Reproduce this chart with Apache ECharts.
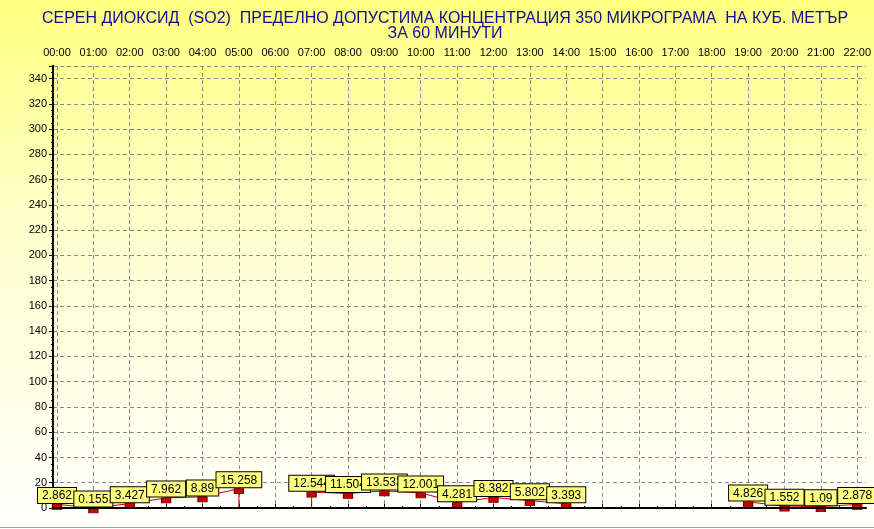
<!DOCTYPE html>
<html>
<head>
<meta charset="utf-8">
<script src="https://cdn.jsdelivr.net/npm/echarts@6/dist/echarts.min.js"></script>
<style>
html,body{margin:0;padding:0;}
#chart{width:874px;height:529px;background:linear-gradient(to bottom,#ffff80 0%,#ffffd0 45%,#fffff8 95%,#ffffff 100%);}
</style>
</head>
<body>
<div id="chart"></div>
<script>
// ---- data ----
const hours = ['00:00','01:00','02:00','03:00','04:00','05:00','06:00','07:00','08:00','09:00','10:00','11:00',
               '12:00','13:00','14:00','15:00','16:00','17:00','18:00','19:00','20:00','21:00','22:00'];
const so2 = [2.862, 0.155, 3.427, 7.962, 8.89, 15.258, null, 12.544, 11.504, 13.533, 12.001, 4.281,
             8.382, 5.802, 3.393, null, null, null, null, 4.826, 1.552, 1.09, 2.878];
const yMin = 0, yMax = 350, yStep = 20;
const titleText = 'СЕРЕН ДИОКСИД  (SO2)  ПРЕДЕЛНО ДОПУСТИМА КОНЦЕНТРАЦИЯ 350 МИКРОГРАМА  НА КУБ. МЕТЪР\nЗА 60 МИНУТИ';

// ---- derived ----
const pts = so2.map((v, i) => [i, v]);
const stems = so2.map((v, i) => (v !== null && (so2[i - 1] === null || so2[i + 1] === null)) ? [i, v] : [i, null]);

const FONT = '"Liberation Sans", Arial, sans-serif';
const gridDash = { color: '#8a8a8a', width: 1, type: [4, 3] };

const chart = echarts.init(document.getElementById('chart'));
chart.setOption({
  backgroundColor: 'transparent',
  animation: false,
  title: {
    text: titleText,
    left: 440,
    textAlign: 'center',
    top: 6,
    textStyle: { fontFamily: FONT, fontSize: 16, fontWeight: 'normal', color: '#10108a', lineHeight: 15 }
  },
  grid: [
    { left: 53, right: 8, top: 66, bottom: 21 },
    { left: 57, right: 13, top: 66, bottom: 21 }
  ],
  xAxis: [
    { gridIndex: 0, type: 'value', min: 0, max: 1, position: 'top', z: 5,
      axisLine: { show: true, lineStyle: { color: '#000', width: 2 } },
      axisTick: { show: false }, axisLabel: { show: false }, splitLine: { show: false } },
    { gridIndex: 0, type: 'value', min: 0, max: 1, position: 'bottom', z: 5,
      axisLine: { show: true, lineStyle: { color: '#000', width: 1, type: [3, 2] } },
      axisTick: { show: false }, axisLabel: { show: false }, splitLine: { show: false } },
    { gridIndex: 1, type: 'value', min: 0, max: hours.length - 1, interval: 1, position: 'top',
      axisLine: { show: false },
      axisTick: { show: true, length: 4, lineStyle: { color: '#000' } },
      minorTick: { show: true, splitNumber: 2, length: 2, lineStyle: { color: '#000' } },
      axisLabel: { formatter: v => hours[v], fontFamily: FONT, fontSize: 11, color: '#000', margin: 8 },
      splitLine: { show: true, lineStyle: gridDash } }
  ],
  yAxis: [
    { gridIndex: 0, type: 'value', min: yMin, max: yMax, interval: yStep,
      axisLine: { show: true, lineStyle: { color: '#000', width: 2 } },
      axisTick: { show: true, length: 4, lineStyle: { color: '#000' } },
      minorTick: { show: true, splitNumber: 4, length: 2, lineStyle: { color: '#000' } },
      axisLabel: { fontFamily: FONT, fontSize: 11, color: '#000', margin: 6, showMaxLabel: false },
      splitLine: { show: true, lineStyle: gridDash } },
    { gridIndex: 0, type: 'value', min: yMin, max: yMax, position: 'right',
      axisLine: { show: true, lineStyle: { color: '#000', width: 2 } },
      axisTick: { show: false }, axisLabel: { show: false }, splitLine: { show: false } },
    { gridIndex: 1, type: 'value', min: yMin, max: yMax, interval: yStep, show: false }
  ],
  series: [
    { type: 'bar', xAxisIndex: 2, yAxisIndex: 2, data: stems, barWidth: 1,
      itemStyle: { color: '#cc0000' }, silent: true, z: 2 },
    { type: 'line', xAxisIndex: 2, yAxisIndex: 2, data: pts, connectNulls: false,
      lineStyle: { color: '#cc0000', width: 1 },
      symbol: 'rect', symbolSize: [9, 5], symbolOffset: [0, 2.5], showAllSymbol: true,
      itemStyle: { color: '#cc0000', borderColor: '#7a0000', borderWidth: 1 },
      label: { show: true, position: 'top', distance: 1,
        formatter: p => String(p.value[1]),
        fontFamily: FONT, fontSize: 12, color: '#000', lineHeight: 12,
        backgroundColor: '#ffff80', borderColor: '#000', borderWidth: 1, padding: [2, 4, 1, 4] },
      labelLayout: { hideOverlap: false },
      z: 3 }
  ],
  graphic: [
    { type: 'rect', left: 0, bottom: 1, shape: { width: 874, height: 1 }, style: { fill: '#a0a0a0' }, silent: true }
  ]
});
</script>
</body>
</html>
